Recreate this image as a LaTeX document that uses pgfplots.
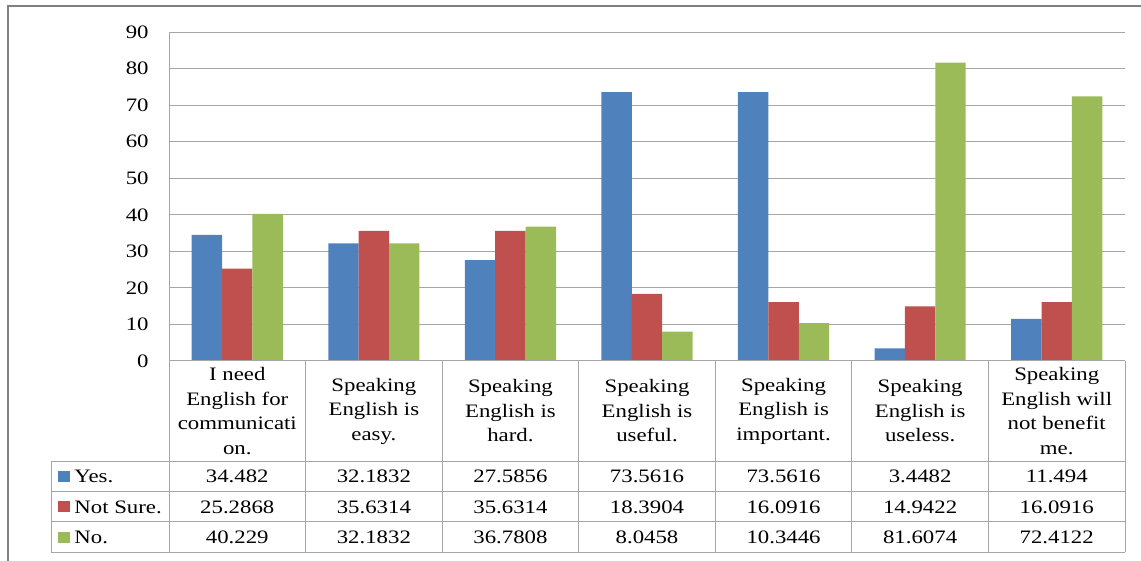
\documentclass[border=0pt]{standalone}
\usepackage{fontspec}
\setmainfont{Liberation Serif}[FakeStretch=1.2]
\usepackage{pgfplots}
\pgfplotsset{compat=1.18}
\definecolor{cyes}{HTML}{4F81BD}
\definecolor{cnot}{HTML}{C0504D}
\definecolor{cno}{HTML}{9BBB59}
\definecolor{gridc}{RGB}{166,166,166}
\definecolor{framec}{RGB}{128,128,128}
\newcommand\tfont{\fontsize{9.5}{12.25}\selectfont}

\begin{document}
\begin{tikzpicture}
% canvas in pixel units of the reference (1px = 0.5pt, y downwards)
\begin{scope}[x=0.5pt,y=-0.5pt]
  \useasboundingbox (0,0) rectangle (1141,561);
  \draw[framec, line width=1pt] (8,563) -- (8,6.5) -- (1143,6.5);
\end{scope}

\begin{axis}[
    at={(84.5pt,-180.5pt)}, anchor=south west,
    scale only axis, width=478pt, height=164.5pt,
    ybar=0pt, bar width=15.2pt,
    xmin=-0.5, xmax=6.5, ymin=0, ymax=90,
    ytick={0,10,...,90}, xtick=\empty,
    axis x line=none, axis y line=left,
    y axis line style={-, gridc, line width=0.5pt},
    ymajorgrids, major grid style={gridc, line width=0.5pt},
    major tick length=0pt,
    /pgf/number format/assume math mode=true,
    yticklabel style={font=\tfont, inner sep=0pt, xshift=-10pt},
  ]
  \addplot[fill=cyes, draw=none] coordinates {(0,34.482) (1,32.1832) (2,27.5856) (3,73.5616) (4,73.5616) (5,3.4482) (6,11.494)};
  \addplot[fill=cnot, draw=none] coordinates {(0,25.2868) (1,35.6314) (2,35.6314) (3,18.3904) (4,16.0916) (5,14.9422) (6,16.0916)};
  \addplot[fill=cno, draw=none] coordinates {(0,40.229) (1,32.1832) (2,36.7808) (3,8.0458) (4,10.3446) (5,81.6074) (6,72.4122)};
\end{axis}

% data table
\begin{scope}[x=0.5pt,y=-0.5pt]
  \draw[gridc, line width=0.5pt] (169,361) -- (1125,361);
  \foreach \yy in {461,491.3,521.7,552} \draw[gridc, line width=0.5pt] (51,\yy) -- (1125,\yy);
  \draw[gridc, line width=0.5pt] (51,461) -- (51,552);
  \foreach \i in {0,...,7} \draw[gridc, line width=0.5pt] ({169+136.571*\i},361) -- ({169+136.571*\i},552);

  \foreach \i/\t in {0/{I need\\English for\\communicati\\on.},
                     1/{Speaking\\English is\\easy.},
                     2/{Speaking\\English is\\hard.},
                     3/{Speaking\\English is\\useful.},
                     4/{Speaking\\English is\\important.},
                     5/{Speaking\\English is\\useless.},
                     6/{Speaking\\English will\\not benefit\\me.}}
    \node[align=center, font=\tfont, inner sep=0pt] at ({169+136.571*(\i+0.5)},411) {\t};

  \foreach \i/\a/\b/\c in {0/34.482/25.2868/40.229, 1/32.1832/35.6314/32.1832,
                           2/27.5856/35.6314/36.7808, 3/73.5616/18.3904/8.0458,
                           4/73.5616/16.0916/10.3446, 5/3.4482/14.9422/81.6074,
                           6/11.494/16.0916/72.4122} {
    \node[font=\tfont, inner sep=0pt, anchor=base] at ({169+136.571*(\i+0.5)},482.5) {\a};
    \node[font=\tfont, inner sep=0pt, anchor=base] at ({169+136.571*(\i+0.5)},513) {\b};
    \node[font=\tfont, inner sep=0pt, anchor=base] at ({169+136.571*(\i+0.5)},543.3) {\c};
  }

  \fill[cyes] (58,470.5) rectangle (70,481.5);
  \fill[cnot] (58,501) rectangle (70,512);
  \fill[cno]  (58,531.5) rectangle (70,542.5);
  \node[font=\tfont, inner sep=0pt, anchor=base west] at (74,482.5) {Yes.};
  \node[font=\tfont, inner sep=0pt, anchor=base west] at (74,513) {Not Sure.};
  \node[font=\tfont, inner sep=0pt, anchor=base west] at (74,543.3) {No.};
\end{scope}
\end{tikzpicture}
\end{document}
